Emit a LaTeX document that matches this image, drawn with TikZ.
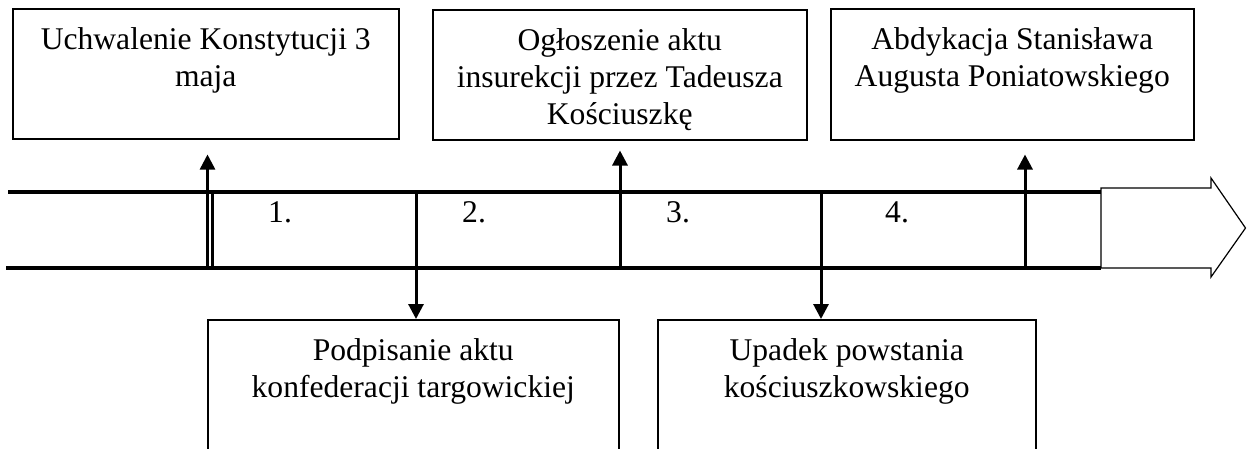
\documentclass[tikz,border=0pt]{standalone}
\usepackage{fontspec}
\setmainfont{Liberation Serif}
\usetikzlibrary{arrows.meta}
\newcommand{\evtext}[3]{\parbox[c][#2][t]{#1}{\centering\rule{0pt}{41pt}#3}}
\begin{document}
\begin{tikzpicture}[x=1pt,y=-1pt,
  evbox/.style={draw, line width=1.5pt, inner sep=0pt, anchor=north west,
    font=\fontsize{31.6}{37}\selectfont},
  numlbl/.style={anchor=base west, inner sep=0pt, font=\fontsize{31.6}{37}\selectfont},
  tline/.style={line width=3.5pt},
  tick/.style={line width=3pt},
  sepline/.style={line width=2.5pt},
  uparr/.style={line width=2.5pt, -{Triangle[length=15pt,width=15pt]}},
  downarr/.style={line width=3pt, -{Triangle[length=15pt,width=15pt]}},
  blockarr/.style={line width=1.2pt, line join=miter}]
\useasboundingbox (0,0) rectangle (1247,448);
\clip (0,0) rectangle (1247,448);

% event boxes
\node[evbox] (b1) at (12,8) {\evtext{386pt}{130pt}{Uchwalenie Konstytucji 3\\maja}};
\node[evbox] (b2) at (432,9) {\evtext{374pt}{130pt}{Ogłoszenie aktu\\insurekcji przez Tadeusza\\Kościuszkę}};
\node[evbox] (b3) at (830,8) {\evtext{363pt}{131pt}{Abdykacja Stanisława\\Augusta Poniatowskiego}};
\node[evbox] (b4) at (207,319) {\evtext{411pt}{160pt}{Podpisanie aktu\\konfederacji targowickiej}};
\node[evbox] (b5) at (657,319) {\evtext{378pt}{160pt}{Upadek powstania\\kościuszkowskiego}};

% timeline
\coordinate (tla) at (8,192);
\coordinate (tra) at (1101,192);
\coordinate (tlb) at (6,268);
\coordinate (trb) at (1101,268);
\draw[blockarr] (1101,188) -- (1211,188) -- (1211,178) -- (1245.5,228) -- (1211,277) -- (1211,268) -- (1101,268) -- cycle;
\draw[tline] (tla) -- (tra);
\draw[tline] (tlb) -- (trb);

% numbers
\node[numlbl] (n1) at (268,222) {1.};
\node[numlbl] (n2) at (462,222) {2.};
\node[numlbl] (n3) at (666,222) {3.};
\node[numlbl] (n4) at (885,222) {4.};

% ticks and arrows
\coordinate (s1a) at (212.5,192);
\coordinate (s1b) at (212.5,268);
\draw[sepline] (s1a) -- (s1b);
\coordinate (c1) at (207.5,266);
\draw[uparr, shorten >=15pt] (c1) -- (b1.south -| c1);
\coordinate (c2) at (416,190.5);
\draw[downarr] (c2) -- (b4.north -| c2);
\coordinate (c3) at (620,269);
\draw[uparr, line width=3pt, shorten >=10pt] (c3) -- (b2.south -| c3);
\coordinate (c4) at (821,190.5);
\draw[downarr] (c4) -- (b5.north -| c4);
\coordinate (c5) at (1025,269);
\draw[uparr, line width=3pt, shorten >=14pt] (c5) -- (b3.south -| c5);
\end{tikzpicture}
\end{document}
